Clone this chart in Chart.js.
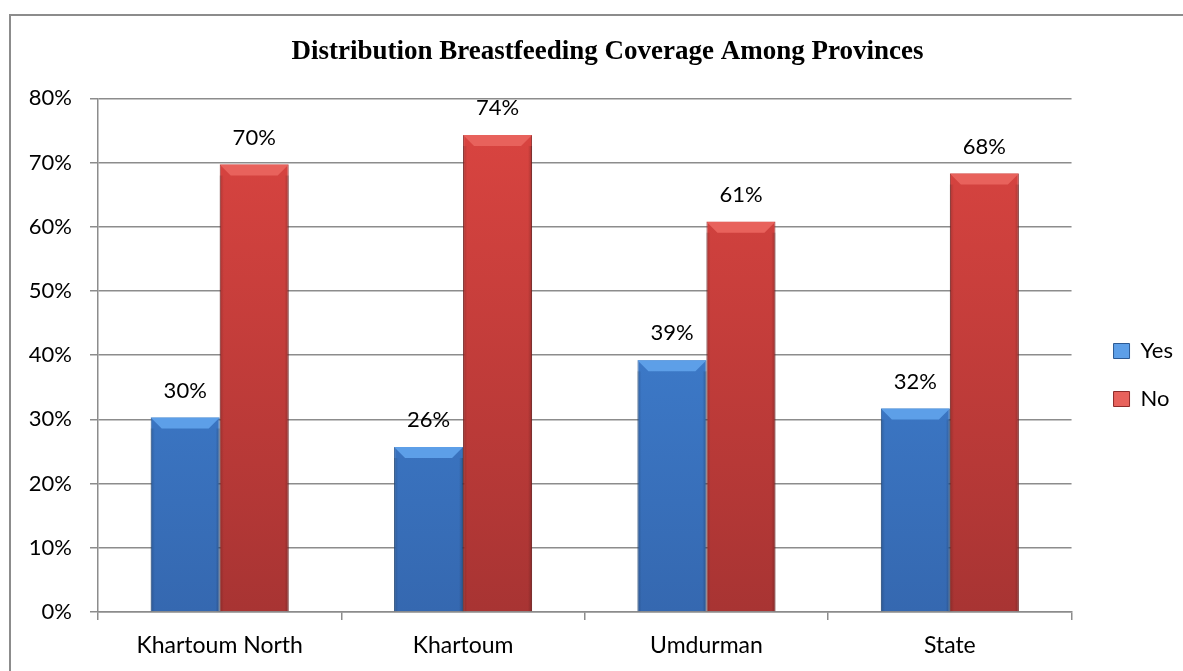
<!DOCTYPE html>
<html>
<head>
<meta charset="utf-8">
<script src="https://cdn.jsdelivr.net/npm/chart.js@4.4.1/dist/chart.umd.min.js"></script>
<style>
  html, body { margin: 0; padding: 0; background: #fff; }
  #wrap { position: relative; width: 1183px; height: 671px; overflow: hidden; }
  #frame { position: absolute; left: 9px; top: 14px; right: -5px; bottom: -5px;
           border-left: 2px solid #8c8c8c; border-top: 2px solid #8c8c8c; }
  canvas { position: absolute; left: 0; top: 0; }
</style>
</head>
<body>
<div id="wrap">
  <div id="frame"></div>
  <canvas id="chart" width="1183" height="671"></canvas>
</div>
<script>
var categories = ["Khartoum North", "Khartoum", "Umdurman", "State"];
var yesValues = [30.3, 25.7, 39.2, 31.7];
var noValues = [69.7, 74.3, 60.8, 68.3];
var yesLabels = ["30%", "26%", "39%", "32%"];
var noLabels = ["70%", "74%", "61%", "68%"];

var uiFont = "Lato, 'Open Sans', sans-serif";

function barGradient(top, bottom) {
  return function(context) {
    var area = context.chart.chartArea;
    if (!area) return top;
    var g = context.chart.ctx.createLinearGradient(0, area.top, 0, area.bottom);
    g.addColorStop(0, top);
    g.addColorStop(1, bottom);
    return g;
  };
}

// bevel on top of each bar plus percent labels above
var bevelPlugin = {
  id: 'bevel',
  afterLayout: function(chart) {
    // nudge legend and title like the original
    chart.legend.top += 64;
    chart.legend.left += 16;
    chart.legend.right += 16;
    chart.legend.adjustHitBoxes();
    chart.titleBlock.left += 19;
    chart.titleBlock.right += 19;
  },
  afterDatasetsDraw: function(chart) {
    var ctx = chart.ctx;
    chart.data.datasets.forEach(function(ds, di) {
      var meta = chart.getDatasetMeta(di);
      meta.data.forEach(function(bar, i) {
        var p = bar.getProps(['x', 'y', 'base', 'width'], true);
        var l = p.x - p.width / 2, r = p.x + p.width / 2, t = p.y, b = p.base;
        var d = 11;
        ctx.save();
        ctx.fillStyle = ds.bevelColor;
        ctx.beginPath();
        ctx.moveTo(l, t); ctx.lineTo(r, t); ctx.lineTo(r - d, t + d); ctx.lineTo(l + d, t + d);
        ctx.closePath(); ctx.fill();
        var side = ctx.createLinearGradient(l, 0, r, 0);
        side.addColorStop(0, 'rgba(0,0,0,0.18)');
        side.addColorStop(0.06, 'rgba(0,0,0,0)');
        side.addColorStop(0.94, 'rgba(0,0,0,0)');
        side.addColorStop(1, 'rgba(0,0,0,0.22)');
        ctx.fillStyle = side;
        ctx.fillRect(l, t + d, r - l, b - t - d);
        ctx.fillStyle = '#000';
        ctx.font = "22px " + uiFont;
        ctx.textAlign = 'center';
        ctx.textBaseline = 'middle';
        ctx.fillText(ds.pctLabels[i], p.x, t - 27);
        ctx.restore();
      });
    });
  }
};

var ctx = document.getElementById("chart");
var chart = new Chart(ctx, {
  type: 'bar',
  data: {
    labels: categories,
    datasets: [
      {
        label: "Yes",
        data: yesValues,
        pctLabels: yesLabels,
        backgroundColor: barGradient('#4389de', '#3568b0'),
        bevelColor: '#5d9fe8',
        borderColor: '#2c5a94',
        borderWidth: 1,
        borderSkipped: 'bottom'
      },
      {
        label: "No",
        data: noValues,
        pctLabels: noLabels,
        backgroundColor: barGradient('#dc4541', '#a83433'),
        bevelColor: '#e8625c',
        borderColor: '#8e2b2a',
        borderWidth: 1,
        borderSkipped: 'bottom'
      }
    ]
  },
  options: {
    responsive: false,
    animation: false,
    layout: { padding: { left: 10, right: 16, top: 15, bottom: 0 } },
    datasets: { bar: { categoryPercentage: 0.567, barPercentage: 1 } },
    plugins: {
      title: {
        display: true,
        text: "Distribution Breastfeeding Coverage Among Provinces",
        color: '#000',
        font: { family: "'Liberation Serif', 'Times New Roman', serif", size: 27, weight: 'bold' },
        padding: { top: 21, bottom: 30 }
      },
      legend: {
        position: 'right',
        labels: {
          color: '#000',
          font: { family: uiFont, size: 22 },
          boxWidth: 16,
          boxHeight: 15,
          padding: 26,
          generateLabels: function(chart) {
            return chart.data.datasets.map(function(ds, i) {
              return {
                text: ds.label,
                fillStyle: ds.bevelColor,
                strokeStyle: ds.borderColor,
                lineWidth: 1,
                datasetIndex: i
              };
            });
          }
        }
      },
      tooltip: { enabled: false }
    },
    scales: {
      x: {
        offset: true,
        grid: { display: true, offset: true, drawOnChartArea: false, drawTicks: true, tickLength: 8, color: '#8c8c8c', lineWidth: 1.5 },
        border: { color: '#8c8c8c', width: 1.5 },
        ticks: { color: '#000', font: { family: uiFont, size: 23 }, padding: 12 },
        afterFit: function(scale) { scale.height = 59; }
      },
      y: {
        min: 0,
        max: 80,
        grid: { color: '#8c8c8c', lineWidth: 1.5, tickLength: 8 },
        border: { color: '#8c8c8c', width: 1.5 },
        ticks: {
          stepSize: 10,
          color: '#000',
          font: { family: uiFont, size: 22 },
          padding: 18,
          callback: function(v) { return v + '%'; }
        },
        afterFit: function(scale) { scale.width = 88; }
      }
    }
  },
  plugins: [bevelPlugin]
});
</script>
</body>
</html>
